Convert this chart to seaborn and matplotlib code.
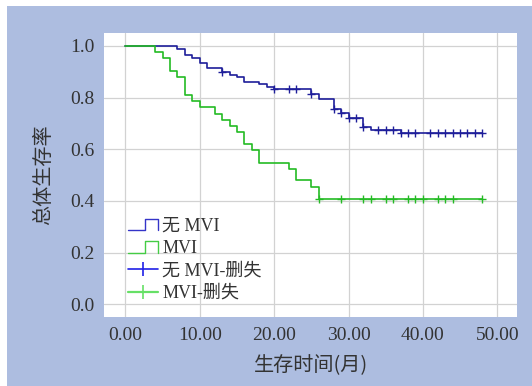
import numpy as np
import pandas as pd
import matplotlib
matplotlib.use("Agg")
import matplotlib.pyplot as plt
import seaborn as sns
from matplotlib.lines import Line2D
from matplotlib.patches import Rectangle
from matplotlib.legend_handler import HandlerBase

# 数据：无MVI组 (事件时间, 事件后生存率)
no_mvi_time = [0, 7, 8, 9, 10, 11, 13, 14, 15, 16, 18, 19, 20, 25, 26, 28, 29, 30, 32, 33, 37, 48]
no_mvi_surv = [1.0, 0.989, 0.963, 0.954, 0.933, 0.915, 0.897, 0.887, 0.878, 0.860, 0.851, 0.842,
               0.833, 0.815, 0.793, 0.754, 0.741, 0.722, 0.687, 0.674, 0.664, 0.664]
no_mvi_censor = [13, 20, 22, 23, 25, 28, 29, 30, 31, 32, 34, 35, 36, 37, 38, 39,
                 41, 42, 43, 44, 45, 46, 47, 48]

# MVI组
mvi_time = [0, 4, 5, 6, 7, 8, 9, 10, 12, 13, 14, 15, 16, 17, 18, 22, 23, 25, 26, 48]
mvi_surv = [1.0, 0.975, 0.952, 0.904, 0.879, 0.808, 0.786, 0.762, 0.737, 0.713, 0.691, 0.667,
            0.619, 0.597, 0.548, 0.525, 0.481, 0.453, 0.406, 0.406]
mvi_censor = [26, 29, 32, 33, 35, 36, 38, 39, 40, 42, 43, 44, 48]

x_ticks = [0, 10, 20, 30, 40, 50]
y_ticks = [0.0, 0.2, 0.4, 0.6, 0.8, 1.0]

blue = "#1e1e9a"
green = "#24bb24"

sns.set_style("white")
cjk = ["Liberation Serif", "Noto Sans CJK SC", "DejaVu Sans"]
plt.rcParams['font.family'] = cjk


def censor_y(times, surv, cens):
    idx = np.searchsorted(times, cens, side='right') - 1
    return np.array(surv)[idx]


class StepHandler(HandlerBase):
    # 图例中的阶梯形状
    def create_artists(self, legend, orig_handle, xdescent, ydescent, width, height, fontsize, trans):
        xs = [-xdescent + width * t for t in (0, 0.58, 0.58, 1, 1)]
        ys = [-ydescent + height * t for t in (0.05, 0.05, 0.95, 0.95, 0.05)]
        ln = Line2D(xs, ys, color=orig_handle.get_color(), lw=1.0)
        ln.set_transform(trans)
        return [ln]


fig = plt.figure(figsize=(5.32, 3.86), dpi=100, facecolor="white")
fig.patches.append(Rectangle((7 / 532, 0), 1, 1 - 6 / 386, transform=fig.transFigure,
                             facecolor="#adbde0", edgecolor="none", zorder=-10))
ax = fig.add_axes([104.4 / 532, 1 - 317.3 / 386, 412.9 / 532, 284.7 / 386])
ax.set_facecolor("white")

df1 = pd.DataFrame({"t": no_mvi_time, "s": no_mvi_surv})
df2 = pd.DataFrame({"t": mvi_time, "s": mvi_surv})
sns.lineplot(data=df1, x="t", y="s", drawstyle="steps-post", estimator=None,
             color=blue, lw=1.2, ax=ax, zorder=3)
sns.lineplot(data=df2, x="t", y="s", drawstyle="steps-post", estimator=None,
             color=green, lw=1.2, ax=ax, zorder=3)

sns.scatterplot(x=no_mvi_censor, y=censor_y(no_mvi_time, no_mvi_surv, no_mvi_censor),
                marker="+", s=40, color=blue, linewidth=1.0, ax=ax, zorder=4)
sns.scatterplot(x=mvi_censor, y=censor_y(mvi_time, mvi_surv, mvi_censor),
                marker="+", s=40, color=green, linewidth=1.0, ax=ax, zorder=4)

ax.set_xlim(-2.83, 52.7)
ax.set_ylim(-0.05, 1.051)
ax.set_xticks(x_ticks)
ax.set_xticklabels([f"{v:.2f}" for v in x_ticks])
ax.set_yticks(y_ticks)
ax.set_yticklabels([f"{v:.1f}" for v in y_ticks])
ax.tick_params(length=0, labelsize=14, labelcolor="#333333", pad=7)
ax.grid(True, color="#d2d2d2", lw=0.9)
for s in ax.spines.values():
    s.set_visible(False)

ax.set_xlabel("生存时间(月)", fontsize=14.5, color="#333333", labelpad=8,
              family=["Noto Sans CJK SC", "DejaVu Sans"])
ax.set_ylabel("总体生存率", fontsize=14.5, color="#333333", labelpad=12,
              family=["Noto Sans CJK SC", "DejaVu Sans"])

h1 = Line2D([], [], color="#3434c8")
h2 = Line2D([], [], color="#44cc44")
h3 = Line2D([], [], color="#2020e6", marker="|", markersize=10, mew=1.2, lw=1.2)
h4 = Line2D([], [], color="#66e066", marker="|", markersize=10, mew=1.2, lw=1.6)
ax.legend([h1, h2, h3, h4], ["无 MVI", "MVI", "无 MVI-删失", "MVI-删失"],
          handler_map={h1: StepHandler(), h2: StepHandler()},
          loc="lower left", bbox_to_anchor=(0.035, 0.022), frameon=False,
          prop={"family": cjk, "size": 13}, labelcolor="#333333",
          handlelength=1.65, handletextpad=0.25, labelspacing=0.3, borderpad=0,
          numpoints=1)

fig.savefig("out.png", dpi=100, facecolor=fig.get_facecolor())
